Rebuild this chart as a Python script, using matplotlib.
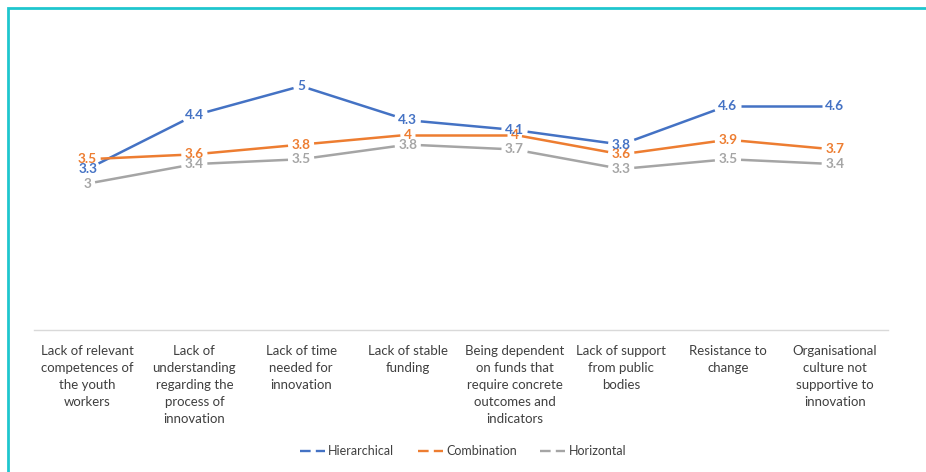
import numpy as np
import matplotlib.pyplot as plt
from matplotlib.lines import Line2D
from matplotlib.patches import Rectangle

plt.rcParams['font.family'] = ['Lato', 'DejaVu Sans']

categories = [
    "Lack of relevant\ncompetences of\nthe youth\nworkers",
    "Lack of\nunderstanding\nregarding the\nprocess of\ninnovation",
    "Lack of time\nneeded for\ninnovation",
    "Lack of stable\nfunding",
    "Being dependent\non funds that\nrequire concrete\noutcomes and\nindicators",
    "Lack of support\nfrom public\nbodies",
    "Resistance to\nchange",
    "Organisational\nculture not\nsupportive to\ninnovation",
]
hierarchical = [3.3, 4.4, 5, 4.3, 4.1, 3.8, 4.6, 4.6]
combination = [3.5, 3.6, 3.8, 4, 4, 3.6, 3.9, 3.7]
horizontal = [3, 3.4, 3.5, 3.8, 3.7, 3.3, 3.5, 3.4]

series = [
    ("Hierarchical", hierarchical, "#4472C4"),
    ("Combination", combination, "#ED7D31"),
    ("Horizontal", horizontal, "#A5A5A5"),
]

fig = plt.figure(figsize=(9.26, 4.72), dpi=100)
ax = fig.add_axes([0.037, 0.301, 0.922, 0.62])
ax.set_xlim(-0.5, len(categories) - 0.5)
ax.set_ylim(0, 6)

x = list(range(len(categories)))

# value labels sit right on the points
labels = {}
for name, vals, col in reversed(series):
    labels[name] = [ax.text(xi, v, f"{v:g}", color=col, fontsize=9.8,
                            fontweight='bold', ha='center', va='center',
                            zorder=3)
                    for xi, v in zip(x, vals)]

fig.canvas.draw()
renderer = fig.canvas.get_renderer()


def clip_point(p, d, box, pad=3.5):
    # move p along unit direction d until it leaves the label box
    w = box.width / 2 + pad
    h = box.height / 2 - 0.5
    t = min(w / abs(d[0]) if d[0] else np.inf, h / abs(d[1]) if d[1] else np.inf)
    return p + t * d


# lines stop short of each label instead of running through it
inv = ax.transData.inverted()
for name, vals, col in series:
    pts = ax.transData.transform(np.column_stack([x, vals]))
    boxes = [t.get_window_extent(renderer) for t in labels[name]]
    for i in range(len(pts) - 1):
        p, q = pts[i], pts[i + 1]
        d = (q - p) / np.hypot(*(q - p))
        a = clip_point(p, d, boxes[i])
        b = clip_point(q, -d, boxes[i + 1])
        seg = inv.transform(np.vstack([a, b]))
        ax.plot(seg[:, 0], seg[:, 1], color=col, lw=1.8,
                solid_capstyle='butt', zorder=2)

ax.set_yticks([])
ax.set_xticks([])
for s in ['top', 'right', 'left']:
    ax.spines[s].set_visible(False)
ax.spines['bottom'].set_color('#D9D9D9')
ax.spines['bottom'].set_linewidth(1.0)

for xi, lab in zip(x, categories):
    ax.text(xi, -0.3, lab, ha='center', va='top', fontsize=9.5,
            color='#404040', linespacing=1.5, transform=ax.transData)

handles = [Line2D([0], [0], color=col, lw=1.7, dashes=(4.5, 2.2))
           for name, vals, col in series]
fig.legend(handles, [s[0] for s in series], loc='center',
           bbox_to_anchor=(0.5, 0.044), ncol=3, frameon=False,
           fontsize=9, handlelength=2.0, handletextpad=0.25,
           columnspacing=1.9, labelcolor='#404040')

# cyan frame along the left and top edges
fig.patches.append(Rectangle((8 / 926, -0.1), 1.2, 1 - 8 / 472 + 0.1,
                             transform=fig.transFigure, fill=False,
                             ec='#1FC6CE', lw=2, zorder=10))

fig.savefig('out.png', dpi=100)
